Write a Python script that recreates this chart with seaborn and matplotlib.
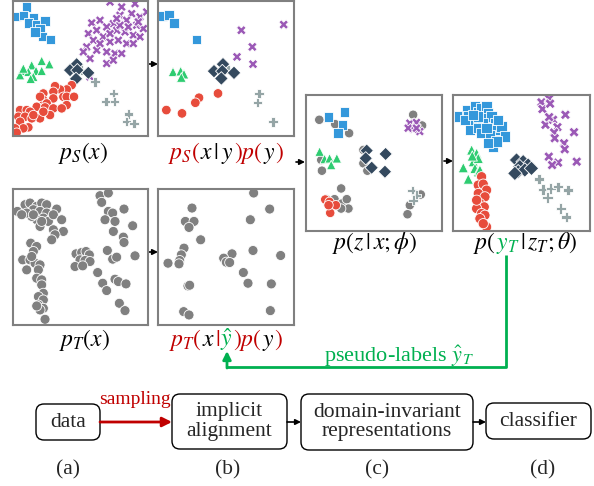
import pandas as pd
import seaborn as sns
import matplotlib.pyplot as plt
from matplotlib.patches import FancyBboxPatch

sns.set_theme(style='white')
plt.rcParams['font.family'] = ['Liberation Serif', 'DejaVu Serif']
plt.rcParams['mathtext.fontset'] = 'stix'

# embedding coordinates, (x, y) with y growing downwards
A_BLUE = [(80,20),(50,48),(70,45),(100,52),(85,68),(110,72),(135,62),(120,85),(128,108),(152,118),(105,95)]
A_PURPLE = [(330,5),(365,20),(405,10),(395,40),(420,50),(440,35),(360,45),(380,60),(410,75),(430,85),
            (340,70),(300,60),(275,68),(290,90),(320,80),(350,90),(375,95),(400,105),(420,110),(265,100),
            (280,120),(310,110),(330,125),(355,120),(380,130),(260,140),(290,150),(320,155),(345,160),(365,160),
            (270,175),(320,190),(340,180),(300,130),(360,75),(385,80),(250,155),(400,130),(415,65),(350,55),
            (330,100),(270,230)]
A_GREEN = [(65,212),(95,195),(125,182),(148,192),(85,215),(108,212),(125,212),(100,230),(92,236),(60,225),(70,205)]
A_NAVY = [(230,192),(210,210),(232,210),(265,218),(228,236)]
A_GREY = [(245,210),(285,245),(340,280),(318,305),(343,305),(385,342),(380,365),(402,370)]
A_RED = [(215,255),(200,268),(180,268),(165,258),(160,275),(130,280),(190,290),(200,290),(222,290),(160,295),
         (130,300),(140,310),(200,315),(110,320),(135,322),(160,325),(185,325),(60,330),(80,330),(90,335),
         (150,345),(120,355),(55,350),(75,350),(95,355),(60,365),(85,382),(70,385),(45,385),(50,398),
         (100,345),(130,335),(120,290)]

B_BLUE = [(22,48),(43,45),(58,68),(125,118)]
B_PURPLE = [(260,90),(387,73),(293,140),(247,170),(295,192)]
B_GREEN = [(55,215),(78,213),(88,222),(80,232)]
B_NAVY = [(205,192),(178,213),(203,213),(238,218),(200,235)]
B_GREY = [(220,208),(313,280),(308,307),(355,365)]
B_RED = [(190,280),(133,293),(122,308),(35,330),(82,340)]

C_TARGET = [(52,95),(75,75),(90,70),(110,80),(125,70),(140,75),(100,90),(120,95),(140,100),(130,115),
            (145,125),(110,120),(95,110),(80,100),(170,88),(160,105),(185,120),(120,140),(160,150),(190,155),
            (165,165),(155,180),(100,105),(125,125),(65,105),
            (92,190),(110,200),(100,215),(68,240),(90,240),(105,250),(120,255),(80,270),(115,270),(95,230),
            (110,295),(125,300),(125,315),(130,340),(115,350),(130,360),(115,375),(130,385),(120,390),(135,418),
            (110,378),
            (228,222),(245,218),(258,215),(268,225),(240,240),(255,242),(270,245),(225,260),(248,258),
            (300,48),(325,40),(305,68),(372,88),(325,95),(338,100),(315,120),(345,125),(340,155),(398,138),
            (370,172),(372,188),(322,212),(338,238),(350,232),(405,228),(293,278),(308,310),(345,298),(355,305),
            (320,332),(378,312),(358,370),(375,392)]

D_TARGET = [(297,40),(112,85),(345,88),(92,125),(118,125),(103,143),(287,120),(138,180),(88,205),(80,225),
            (75,242),(73,252),(40,250),(295,212),(232,222),(207,235),(215,247),(225,248),(378,227),(266,278),
            (280,310),(350,312),(100,318),(105,316),(87,395),(103,405),(347,392)]

E_TARGET = [(72,120),(120,133),(162,160),(355,105),(382,137),(205,210),(205,250),(217,272),(78,240),(80,272),
            (138,325),(118,357),(140,370),(155,357),(160,385),(138,385),(378,343),(345,375),(338,402),(95,358)]
E_BLUE = [(100,112),(148,97),(142,135),(128,160)]
E_PURPLE = [(345,130),(365,128),(375,155),(355,148),(340,145),(365,145)]
E_GREEN = [(73,215),(88,237),(103,235),(125,235),(108,255)]
E_NAVY = [(215,212),(272,222),(212,235),(230,263),(270,275)]
E_GREY = [(352,332),(365,345),(355,360)]
E_RED = [(90,358),(103,365),(122,375),(105,398),(100,375)]

F_BLUE = [(42,110),(65,90),(70,110),(90,80),(98,98),(110,85),(125,80),(130,100),(120,115),(140,110),
          (150,130),(155,150),(170,140),(180,170),(150,180),(145,200),(115,130),(95,130),(80,125),(60,120),
          (75,150),(100,145),(110,160),(135,165),(125,145),(160,120),(100,110),(85,105),(155,185),(130,190)]
F_PURPLE = [(290,68),(313,57),(293,88),(316,72),(362,105),(302,135),(325,120),(313,112),(338,142),(328,158),
            (330,175),(388,157),(358,190),(360,208),(312,230),(340,248),(322,255),(396,245)]
F_GREEN = [(80,210),(95,220),(85,245),(100,235),(55,263),(90,265),(100,275),(70,297),(105,270),(82,228)]
F_NAVY = [(215,240),(235,245),(250,255),(225,260),(220,275),(240,270),(260,265),(210,280)]
F_GREY = [(283,297),(295,328),(318,325),(340,320),(370,330),(308,352),(348,385),(365,410)]
F_RED = [(110,290),(100,315),(115,312),(125,330),(100,340),(120,350),(105,370),(118,380),(95,385),(110,400),
         (120,405),(105,415),(125,440),(115,430),(95,360)]

PAL = {'red': '#e74c3c', 'purple': '#9b59b6', 'blue': '#3498db', 'green': '#2ecc71',
       'navy': '#34495e', 'grey': '#95a5a6', 'target': '#808080'}
MK = {'red': 'o', 'purple': 'X', 'blue': 's', 'green': '^', 'navy': 'D', 'grey': 'P', 'target': 'o'}

RED = '#c00000'
GREEN = '#00b050'
K = 'black'

# panel: groups, box in figure pixels (l, t, r, b), axis limits, marker size
panels = [
    ({'purple': A_PURPLE, 'blue': A_BLUE, 'green': A_GREEN, 'grey': A_GREY, 'navy': A_NAVY, 'red': A_RED},
     (12.7, 1, 148, 136), (38, 444, 408, 2), 46),
    ({'purple': B_PURPLE, 'blue': B_BLUE, 'green': B_GREEN, 'grey': B_GREY, 'navy': B_NAVY, 'red': B_RED},
     (158, 1, 294, 136), (10, 418, 408, 2), 48),
    ({'target': C_TARGET}, (12.7, 189, 148, 325), (38, 444, 435, 28), 52),
    ({'target': D_TARGET}, (158, 189, 294, 325), (10, 418, 435, 28), 52),
    ({'target': E_TARGET, 'blue': E_BLUE, 'purple': E_PURPLE, 'green': E_GREEN, 'navy': E_NAVY,
      'grey': E_GREY, 'red': E_RED}, (306, 95, 442, 231), (32, 442, 452, 46), 46),
    ({'purple': F_PURPLE, 'blue': F_BLUE, 'green': F_GREEN, 'navy': F_NAVY, 'grey': F_GREY, 'red': F_RED},
     (453, 95, 590, 231), (24, 436, 452, 46), 54),
]

fig = plt.figure(figsize=(5.94, 4.86), dpi=100)
ax0 = fig.add_axes([0, 0, 1, 1])
ax0.set_xlim(0, 594)
ax0.set_ylim(486, 0)
ax0.axis('off')

for groups, box, lim, size in panels:
    rows = [(x, y, cls) for cls, pts in groups.items() for x, y in pts]
    df = pd.DataFrame(rows, columns=['x', 'y', 'cls'])
    l, t, r, b = box
    ax = fig.add_axes([l / 594, 1 - b / 486, (r - l) / 594, (b - t) / 486])
    sns.scatterplot(data=df, x='x', y='y', hue='cls', style='cls', palette=PAL, markers=MK,
                    s=size, edgecolor='white', linewidth=0.6, legend=False, ax=ax)
    ax.set_xlim(lim[0], lim[1])
    ax.set_ylim(lim[2], lim[3])
    ax.set(xticks=[], yticks=[], xlabel='', ylabel='')
    for sp in ax.spines.values():
        sp.set_color('#808080')
        sp.set_linewidth(1.5)


def mtext(cx, base, parts, size=17):
    rend = fig.canvas.get_renderer()
    ts = [ax0.text(0, base, s, color=c, fontsize=size, ha='left', va='baseline') for s, c in parts]
    ws = [t.get_window_extent(rend).width for t in ts]
    x = cx - sum(ws) / 2
    for t, w in zip(ts, ws):
        t.set_x(x)
        x += w


mtext(83, 159, [(r'$p_S(x)$', K)])
mtext(226, 159, [(r'$p_S($', RED), (r'$x\,|\,y$', K), (r'$)p($', RED), (r'$y$', K), (r'$)$', RED)])
mtext(375, 249, [(r'$p(z\,|\,x;\phi)$', K)])
mtext(525, 249, [(r'$p($', K), (r'$y_T$', GREEN), (r'$|\,z_T;\theta)$', K)])
mtext(85, 346, [(r'$p_T(x)$', K)])
mtext(226, 346, [(r'$p_T($', RED), (r'$x$', K), (r'$|$', RED), (r'$\hat{y}$', GREEN),
                 (r'$)p($', RED), (r'$y$', K), (r'$)$', RED)])
ax0.text(399, 356, r'pseudo-labels $\hat{y}_T$', color=GREEN, fontsize=16, ha='center', va='center')

# feedback arrow
ax0.plot([506, 506, 227], [255, 367, 367], color=GREEN, lw=2, solid_capstyle='butt')
ax0.annotate('', xy=(227, 351), xytext=(227, 368),
             arrowprops=dict(arrowstyle='-|>', color=GREEN, lw=2, mutation_scale=12, shrinkA=0, shrinkB=0))

# small black arrows between panels
for x, y in [(153, 64), (153, 252), (300, 162), (448, 161)]:
    ax0.annotate('', xy=(x + 5, y), xytext=(x - 4, y),
                 arrowprops=dict(arrowstyle='-|>', color=K, lw=1.2, mutation_scale=8, shrinkA=0, shrinkB=0))

# pipeline boxes
boxes = [((36, 404, 100, 440), 'data'),
         ((172, 394, 287, 449), 'implicit\nalignment'),
         ((301, 394, 473, 450), 'domain-invariant\nrepresentations'),
         ((486, 403, 591, 439), 'classifier')]
for (x0, y0, x1, y1), label in boxes:
    ax0.add_patch(FancyBboxPatch((x0, y0), x1 - x0, y1 - y0, boxstyle='round,pad=0,rounding_size=8',
                                 fc='white', ec=K, lw=1))
    ax0.text((x0 + x1) / 2, (y0 + y1) / 2, label, ha='center', va='center', fontsize=15.5, linespacing=1.05)

ax0.annotate('', xy=(172, 422), xytext=(100, 422),
             arrowprops=dict(arrowstyle='-|>', color=RED, lw=2, mutation_scale=14, shrinkA=0, shrinkB=0))
ax0.text(135, 399, 'sampling', color=RED, fontsize=14, ha='center', va='center')
for x0, x1 in [(287, 301), (473, 486)]:
    ax0.annotate('', xy=(x1, 422), xytext=(x0, 422),
                 arrowprops=dict(arrowstyle='-|>', color=K, lw=1.2, mutation_scale=8, shrinkA=0, shrinkB=0))

for x, lab in zip([68, 228, 377, 543], ['(a)', '(b)', '(c)', '(d)']):
    ax0.text(x, 470, lab, ha='center', va='center', fontsize=15.5)

fig.savefig('out.png', dpi=100)
